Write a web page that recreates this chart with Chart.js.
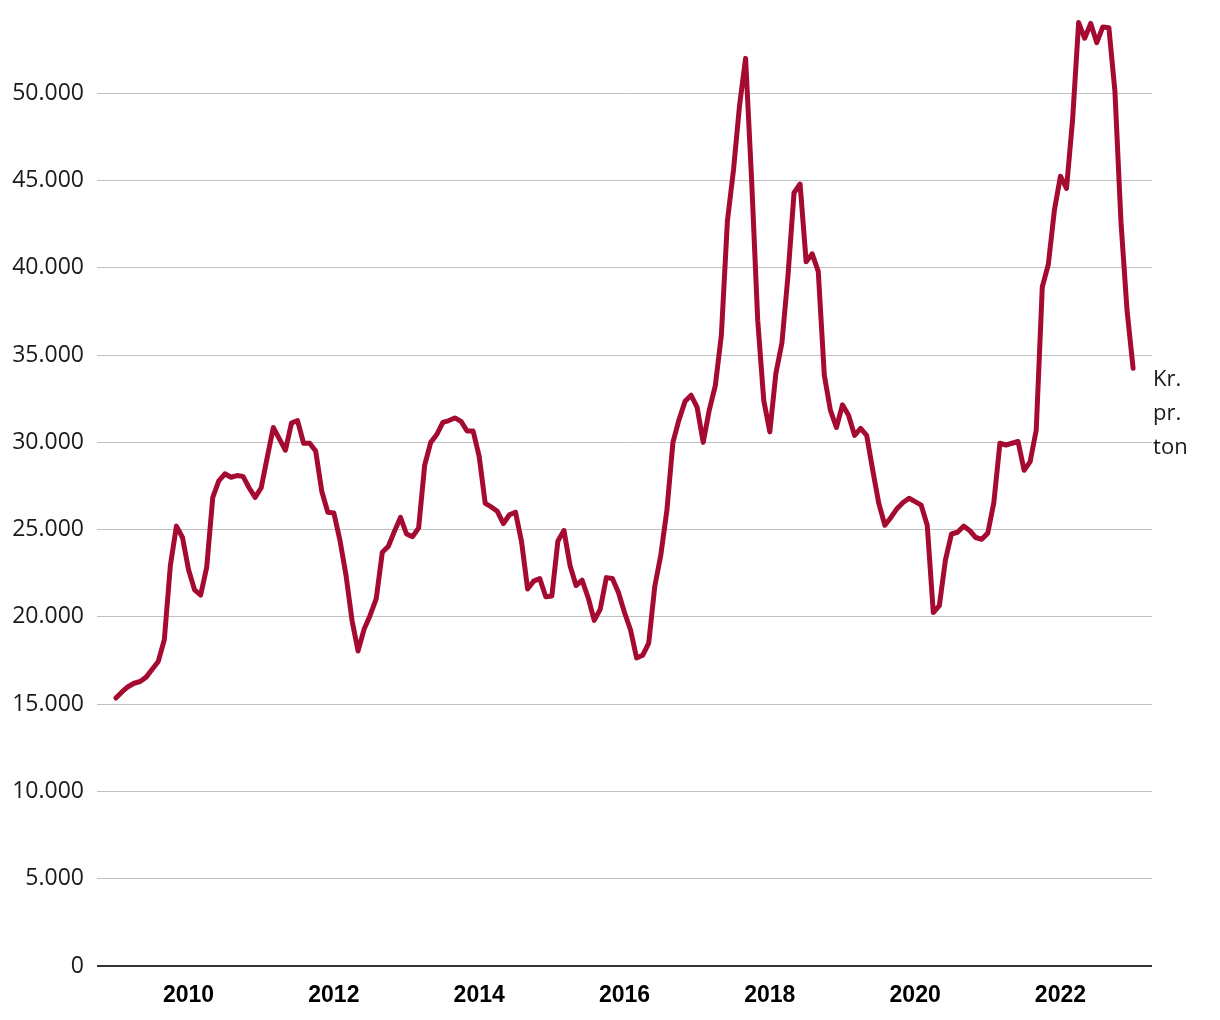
<!DOCTYPE html>
<html>
<head>
<meta charset="utf-8">
<script src="https://cdn.jsdelivr.net/npm/chart.js@4.4.1/dist/chart.umd.min.js"></script>
<style>
  html, body { margin: 0; padding: 0; background: #fff; }
  canvas { display: block; }
</style>
</head>
<body>
<canvas id="myChart" width="1220" height="1020"></canvas>
<script>
// monthly prices, kr. per ton, Jan..Dec
const years = [2009, 2010, 2011, 2012, 2013, 2014, 2015, 2016, 2017, 2018, 2019, 2020, 2021, 2022, 2023];
const v2009 = [15350, 15700, 16000, 16200, 16300, 16550, 17000, 17450, 18700, 22950, 25200, 24550];
const v2010 = [22700, 21550, 21250, 22850, 26850, 27800, 28200, 28000, 28100, 28050, 27400, 26850];
const v2011 = [27400, 29150, 30850, 30200, 29550, 31100, 31250, 29950, 29950, 29500, 27200, 26000];
const v2012 = [25950, 24400, 22400, 19800, 18050, 19300, 20100, 21050, 23700, 24050, 24900, 25700];
const v2013 = [24750, 24600, 25100, 28700, 30000, 30450, 31150, 31250, 31400, 31200, 30650, 30650];
const v2014 = [29200, 26500, 26300, 26050, 25350, 25850, 26000, 24300, 21600, 22050, 22200, 21150];
const v2015 = [21200, 24350, 24950, 22950, 21800, 22100, 21100, 19800, 20450, 22250, 22200, 21400];
const v2016 = [20250, 19250, 17650, 17800, 18500, 21750, 23550, 26100, 30000, 31300, 32350, 32700];
const v2017 = [32000, 30000, 31850, 33250, 36150, 42700, 45600, 49300, 52000, 45000, 37000, 32400];
const v2018 = [30600, 33950, 35700, 39550, 44300, 44800, 40350, 40800, 39800, 33850, 31850, 30850];
const v2019 = [32150, 31550, 30400, 30800, 30400, 28400, 26500, 25250, 25700, 26200, 26550, 26800];
const v2020 = [26600, 26400, 25250, 20250, 20650, 23250, 24750, 24850, 25200, 24950, 24550, 24450];
const v2021 = [24800, 26550, 29950, 29850, 29950, 30050, 28400, 28900, 30700, 38900, 40200, 43300];
const v2022 = [45250, 44550, 48450, 54050, 53150, 54000, 52900, 53800, 53750, 50100, 42600, 37550];
const v2023 = [34250];

const xTickYears = [2010, 2012, 2014, 2016, 2018, 2020, 2022];
const yTicks = [0, 5000, 10000, 15000, 20000, 25000, 30000, 35000, 40000, 45000, 50000];
const unitLabel = ['Kr.', 'pr.', 'ton'];

const yearValues = [v2009, v2010, v2011, v2012, v2013, v2014, v2015, v2016, v2017, v2018, v2019, v2020, v2021, v2022, v2023];

// x = year + month/12
const points = [];
yearValues.forEach((vals, yi) => {
    vals.forEach((v, m) => {
        points.push({ x: years[yi] + m / 12, y: v });
    });
});

const fmt = (v) => String(v).replace(/\B(?=(\d{3})+(?!\d))/g, '.');

const unitLabelPlugin = {
    id: 'unitLabel',
    afterDatasetsDraw(chart) {
        const meta = chart.getDatasetMeta(0);
        const last = meta.data[meta.data.length - 1];
        const ctx = chart.ctx;
        ctx.save();
        ctx.font = '22px "Open Sans"';
        ctx.fillStyle = '#1a1a1a';
        ctx.textAlign = 'left';
        ctx.textBaseline = 'alphabetic';
        unitLabel.forEach((t, i) => {
            ctx.fillText(t, last.x + 20, last.y + 18 + i * 34);
        });
        ctx.restore();
    }
};

const ctx = document.getElementById('myChart').getContext('2d');
const myChart = new Chart(ctx, {
    type: 'line',
    data: {
        datasets: [{
            data: points,
            borderColor: '#A50A30',
            borderWidth: 5,
            borderJoinStyle: 'round',
            borderCapStyle: 'round',
            pointRadius: 0,
            tension: 0,
            fill: false,
        }],
    },
    options: {
        responsive: false,
        animation: false,
        devicePixelRatio: 1,
        layout: { padding: { top: 6, right: 68, left: 0, bottom: 0 } },
        plugins: {
            legend: { display: false },
            tooltip: { enabled: false },
        },
        scales: {
            x: {
                type: 'linear',
                min: 2008.74,
                max: 2023.26,
                afterBuildTicks: (axis) => {
                    axis.ticks = xTickYears.map(v => ({ value: v }));
                },
                afterFit: (axis) => {
                    axis.height = 54;
                    axis.paddingLeft = 0;
                    axis.paddingRight = 0;
                },
                grid: { display: false, drawTicks: false },
                border: { display: false },
                ticks: {
                    padding: 16,
                    maxRotation: 0,
                    autoSkip: false,
                    color: '#000',
                    font: { family: '"Liberation Sans", Arial', size: 23, weight: 'bold' },
                    callback: (v) => String(v),
                },
            },
            y: {
                min: 0,
                max: 55000,
                afterBuildTicks: (axis) => {
                    axis.ticks = yTicks.map(v => ({ value: v }));
                },
                afterFit: (axis) => {
                    axis.width = 97;
                    axis.paddingTop = 0;
                    axis.paddingBottom = 0;
                },
                border: { display: false },
                grid: {
                    drawTicks: false,
                    color: (c) => (c.tick && c.tick.value === 0 ? '#333333' : '#c0c0c0'),
                    lineWidth: (c) => (c.tick && c.tick.value === 0 ? 2 : 1),
                },
                ticks: {
                    padding: 13,
                    color: '#1a1a1a',
                    font: { family: '"Open Sans"', size: 23 },
                    callback: (v) => fmt(v),
                },
            },
        },
    },
    plugins: [unitLabelPlugin],
});
</script>
</body>
</html>
